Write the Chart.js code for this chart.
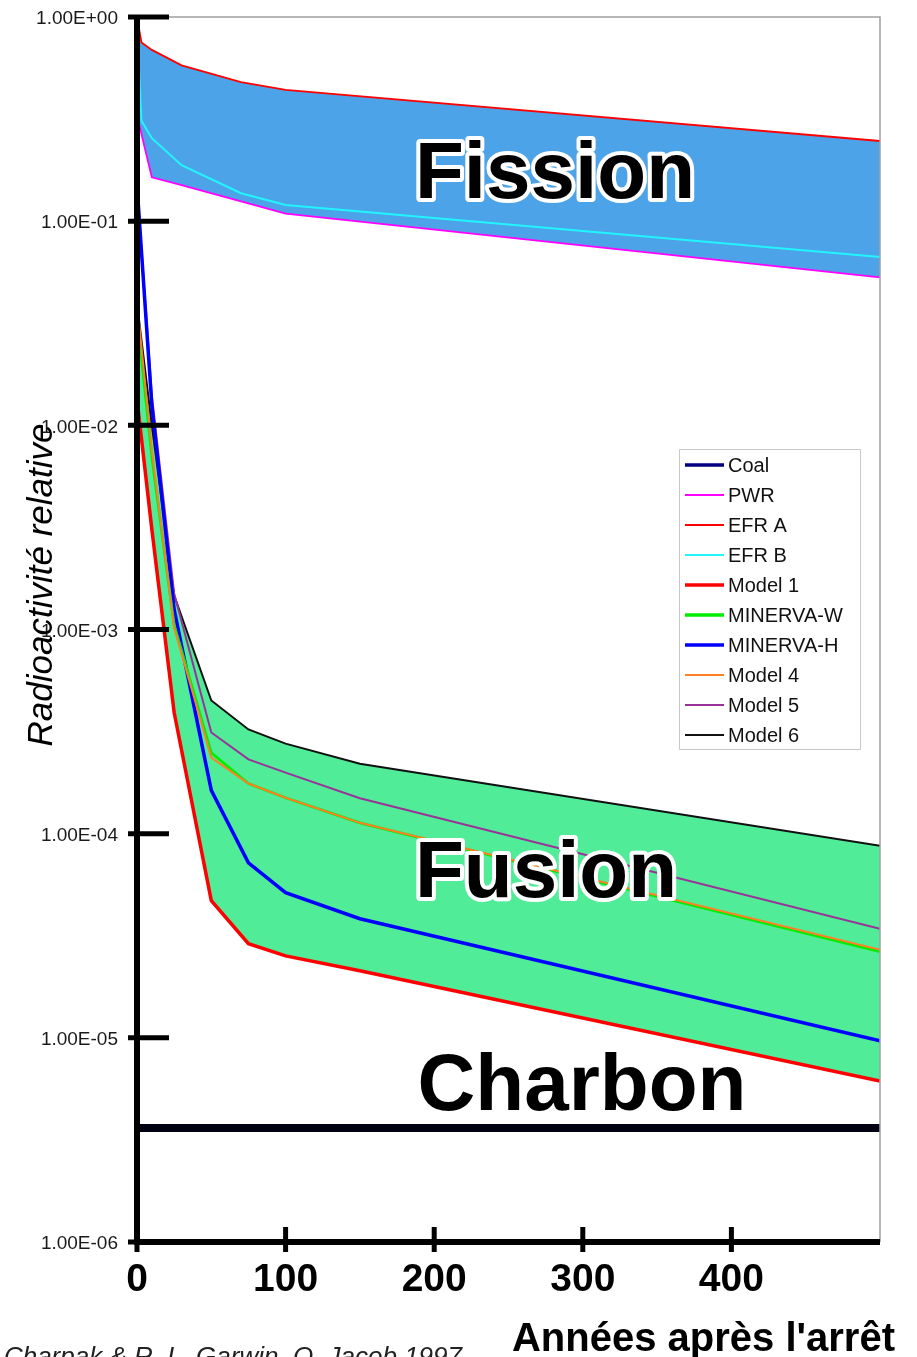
<!DOCTYPE html>
<html>
<head>
<meta charset="utf-8">
<script src="https://cdn.jsdelivr.net/npm/chart.js@4.4.1/dist/chart.umd.min.js"></script>
<style>
html,body{margin:0;padding:0;background:#fff;}
canvas{display:block;}
</style>
</head>
<body>
<canvas id="c" width="917" height="1357"></canvas>
<script>
// ---- data ----
const fissionYears = [0, 3, 10, 30, 70, 100, 500];
const fusionYears  = [0, 10, 25, 50, 75, 100, 150, 500];
const coalYears    = [0, 500];

const coal      = [3.62e-6, 3.62e-6];
const pwr       = [0.33, 0.267, 0.164, 0.15, 0.125, 0.109, 0.0531];
const efrA      = [1.0, 0.75, 0.69, 0.58, 0.48, 0.44, 0.247];
const efrB      = [0.9, 0.31, 0.255, 0.188, 0.137, 0.12, 0.0667];
const model1    = [0.0134, 3.09e-3, 3.92e-4, 4.7e-5, 2.89e-5, 2.52e-5, 2.13e-5, 6.15e-6];
const minervaW  = [0.035, 7.0e-3, 1.05e-3, 2.49e-4, 1.76e-4, 1.5e-4, 1.13e-4, 2.64e-5];
const minervaH  = [0.15, 0.0125, 1.25e-3, 1.63e-4, 7.2e-5, 5.14e-5, 3.83e-5, 9.67e-6];
const model4    = [0.04, 7.5e-3, 1.02e-3, 2.36e-4, 1.76e-4, 1.5e-4, 1.13e-4, 2.7e-5];
const model5    = [0.15, 0.014, 1.5e-3, 3.13e-4, 2.31e-4, 1.99e-4, 1.49e-4, 3.42e-5];
const model6    = [0.0396, 0.01, 1.47e-3, 4.49e-4, 3.24e-4, 2.76e-4, 2.2e-4, 8.73e-5];

const seriesLabels = ['Coal','PWR','EFR A','EFR B','Model 1','MINERVA-W','MINERVA-H','Model 4','Model 5','Model 6'];
const yTickValues = [1, 1e-1, 1e-2, 1e-3, 1e-4, 1e-5, 1e-6];
const xTickValues = [0, 100, 200, 300, 400];
const regionLabels = ['Fission', 'Fusion', 'Charbon'];
const yTitle = 'Radioactivité relative';
const xTitle = "Années après l'arrêt";
const sourceNote = 'Charpak & R. L. Garwin, O. Jacob 1997';

// ---- build ----
const pts = (xs, ys) => xs.map((x, i) => ({x: x, y: ys[i]}));
const FONT = "'Liberation Sans', Arial, Helvetica, sans-serif";
const FISSION_FILL = '#4DA3E8';
const FUSION_FILL = '#50EC98';

function ds(label, xs, ys, color, width, extra) {
  return Object.assign({
    label: label, data: pts(xs, ys), borderColor: color, backgroundColor: color,
    borderWidth: width, pointRadius: 0, tension: 0, fill: false, legendColor: color
  }, extra || {});
}

const datasets = [
  ds(seriesLabels[0], coalYears, coal, '#000010', 8, {legendColor: '#000080', legendWidth: 3.5}),
  ds(seriesLabels[1], fissionYears, pwr, '#FF00FF', 1.8),
  ds(seriesLabels[2], fissionYears, efrA, '#FF0000', 1.8, {fill: {target: 1, above: FISSION_FILL, below: FISSION_FILL}}),
  ds(seriesLabels[3], fissionYears, efrB, '#22F5FF', 2),
  ds(seriesLabels[4], fusionYears, model1, '#FF0000', 3.5),
  ds(seriesLabels[5], fusionYears, minervaW, '#00EE00', 2.8, {legendWidth: 3.5}),
  ds(seriesLabels[6], fusionYears, minervaH, '#0000FF', 3.5),
  ds(seriesLabels[7], fusionYears, model4, '#FF7F27', 2, {order: -1}),
  ds(seriesLabels[8], fusionYears, model5, '#993399', 2),
  ds(seriesLabels[9], fusionYears, model6, '#111111', 2, {fill: {target: 4, above: FUSION_FILL, below: FUSION_FILL}})
];

function fmtExp(v) {
  const e = Math.round(Math.log10(v));
  return '1.00E' + (e < 0 ? '-' : '+') + String(Math.abs(e)).padStart(2, '0');
}

const overlay = {
  id: 'overlay',
  afterDatasetsDraw(chart) {
    const ctx = chart.ctx, ca = chart.chartArea;
    const xs = chart.scales.x, ys = chart.scales.y;
    ctx.save();
    // frame (top/right)
    ctx.strokeStyle = '#a0a0a0'; ctx.lineWidth = 1.5;
    ctx.beginPath(); ctx.moveTo(ca.left, ca.top); ctx.lineTo(ca.right, ca.top); ctx.lineTo(ca.right, ca.bottom); ctx.stroke();
    // axes
    ctx.strokeStyle = '#000'; ctx.lineCap = 'butt';
    ctx.lineWidth = 6;
    ctx.beginPath(); ctx.moveTo(ca.left, ca.top - 2); ctx.lineTo(ca.left, ca.bottom + 3); ctx.stroke();
    ctx.beginPath(); ctx.moveTo(ca.left - 3, ca.bottom); ctx.lineTo(ca.right, ca.bottom); ctx.stroke();
    // y tick marks
    ctx.lineWidth = 5;
    yTickValues.forEach(v => {
      const y = ys.getPixelForValue(v);
      ctx.beginPath(); ctx.moveTo(ca.left - 9, y); ctx.lineTo(ca.left + 32, y); ctx.stroke();
    });
    // x tick marks
    xTickValues.forEach(v => {
      const x = xs.getPixelForValue(v);
      ctx.beginPath(); ctx.moveTo(x, ca.bottom - 15); ctx.lineTo(x, ca.bottom + 10); ctx.stroke();
    });
    // region labels
    ctx.font = 'bold 80px ' + FONT;
    ctx.textAlign = 'center'; ctx.textBaseline = 'alphabetic';
    ctx.lineJoin = 'round';
    const pos = [[555, 198], [546, 897], [582, 1110]];
    regionLabels.forEach((t, i) => {
      ctx.strokeStyle = '#fff'; ctx.lineWidth = 8;
      ctx.strokeText(t, pos[i][0], pos[i][1]);
      ctx.fillStyle = '#000';
      ctx.fillText(t, pos[i][0], pos[i][1]);
    });
    // y title
    ctx.save();
    ctx.translate(42, 585); ctx.rotate(-Math.PI / 2);
    ctx.font = 'italic 35px ' + FONT; ctx.fillStyle = '#000';
    ctx.textAlign = 'center'; ctx.textBaseline = 'middle';
    ctx.fillText(yTitle, 0, 0);
    ctx.restore();
    // x title
    ctx.font = 'bold 40px ' + FONT; ctx.fillStyle = '#000';
    ctx.textAlign = 'right'; ctx.textBaseline = 'alphabetic';
    ctx.fillText(xTitle, 895, 1351);
    // source
    ctx.font = 'italic 26px ' + FONT; ctx.fillStyle = '#222';
    ctx.textAlign = 'right';
    ctx.fillText(sourceNote, 462, 1365);
    // legend
    const lx = 679.5, ly = 449.5, lw = 181, lh = 300;
    ctx.fillStyle = '#fff'; ctx.fillRect(lx, ly, lw, lh);
    ctx.strokeStyle = '#c8c8c8'; ctx.lineWidth = 1;
    ctx.strokeRect(lx, ly, lw, lh);
    ctx.font = '20px ' + FONT; ctx.textAlign = 'left'; ctx.textBaseline = 'middle';
    chart.data.datasets.forEach((d, i) => {
      const y = 465 + i * 30;
      ctx.strokeStyle = d.legendColor; ctx.lineWidth = d.legendWidth || Math.min(d.borderWidth, 3.5);
      ctx.beginPath(); ctx.moveTo(685, y); ctx.lineTo(724, y); ctx.stroke();
      ctx.fillStyle = '#111';
      ctx.fillText(d.label, 728, y + 1);
    });
    ctx.restore();
  }
};

new Chart(document.getElementById('c'), {
  type: 'line',
  data: { datasets: datasets },
  options: {
    responsive: false, animation: false, devicePixelRatio: 1,
    layout: { padding: { top: 17, right: 37, left: 0, bottom: 0 } },
    plugins: {
      legend: { display: false }, tooltip: { enabled: false }, title: { display: false },
      filler: { propagate: false, drawTime: 'beforeDatasetsDraw' }
    },
    scales: {
      x: {
        type: 'linear', min: 0, max: 500,
        afterFit: s => { s.height = 115; s.paddingLeft = 0; s.paddingRight = 0; },
        afterBuildTicks: s => { s.ticks = xTickValues.map(v => ({ value: v })); },
        grid: { display: false, drawTicks: false }, border: { display: false },
        ticks: { font: { family: FONT, size: 39, weight: 'bold' }, color: '#000', padding: 15, maxRotation: 0, autoSkip: false }
      },
      y: {
        type: 'logarithmic', min: 1e-6, max: 1,
        afterFit: s => { s.width = 137; s.paddingTop = 0; s.paddingBottom = 0; },
        afterBuildTicks: s => { s.ticks = yTickValues.map(v => ({ value: v })); },
        grid: { display: false, drawTicks: false }, border: { display: false },
        ticks: { callback: v => fmtExp(v), font: { family: FONT, size: 19 }, color: '#1a1a1a', padding: 19, labelOffset: 2, autoSkip: false }
      }
    }
  },
  plugins: [overlay]
});
</script>
</body>
</html>
